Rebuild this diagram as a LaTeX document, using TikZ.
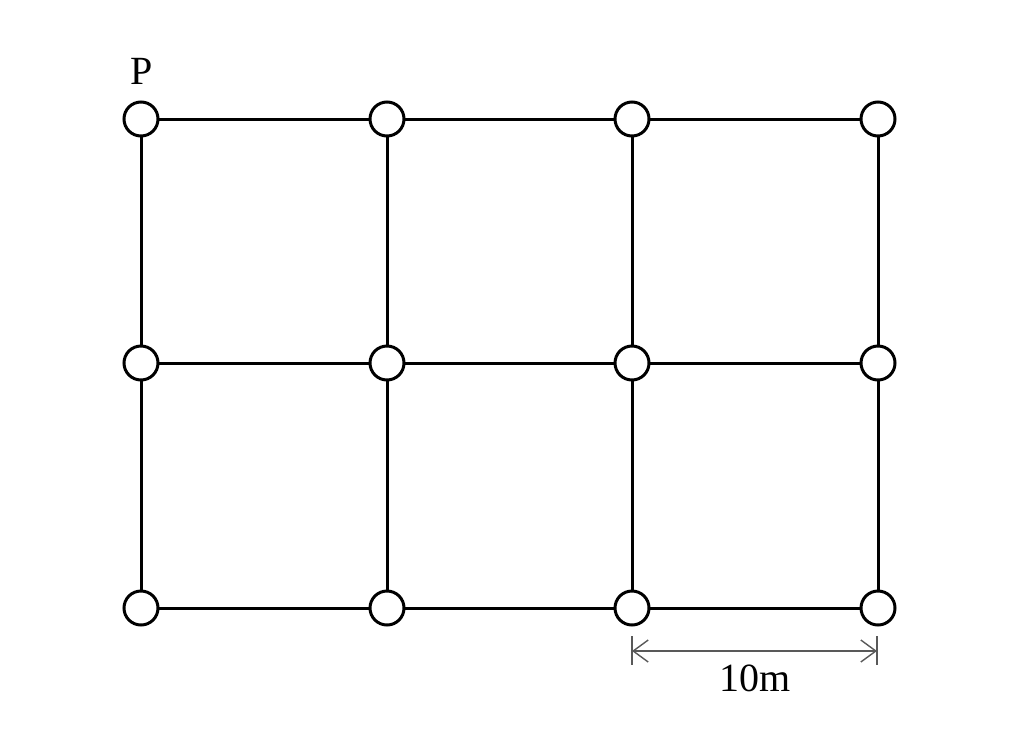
\documentclass[tikz,border=0pt]{standalone}
\usepackage{fontspec}
\setmainfont{Liberation Serif}
\usetikzlibrary{arrows.meta}
\begin{document}
\begin{tikzpicture}[x=1pt,y=-1pt,
  pt/.style={circle,draw=black,fill=white,line width=3pt,minimum size=34pt,inner sep=0pt},
  edge/.style={line width=3pt,black},
  dim/.style={line width=1.4pt,draw=black!65},
  tip/.style={Straight Barb[length=15pt,width=22pt,line width=1.4pt]},
  lbl/.style={font=\fontsize{40}{44}\selectfont,inner sep=0pt}]
\useasboundingbox (0,0) rectangle (1024,742);
\foreach \c/\x in {0/141,1/387,2/632,3/878}{
  \foreach \r/\y in {0/119,1/363,2/608}{
    \coordinate (c-\c-\r) at (\x,\y);
  }
}
\foreach \c in {0,1,2}{
  \pgfmathtruncatemacro{\n}{\c+1}
  \foreach \r in {0,1,2}{ \draw[edge] (c-\c-\r) -- (c-\n-\r); }
}
\foreach \c in {0,1,2,3}{
  \draw[edge] (c-\c-0) -- (c-\c-1);
  \draw[edge] (c-\c-1) -- (c-\c-2);
}
\foreach \c in {0,1,2,3}{
  \foreach \r in {0,1,2}{ \node[pt] (n-\c-\r) at (c-\c-\r) {}; }
}
\node[lbl] (P) at (142,71) {P};
\coordinate (dl) at (632,651);
\coordinate (dr) at (877,651);
\draw[dim] (632,636) -- (632,665);
\draw[dim] (877,636) -- (877,665);
\draw[dim,{Straight Barb[length=15pt,width=22pt]}-{Straight Barb[length=15pt,width=22pt]}] (dl) -- (dr);
\node[lbl] (L) at (755,678) {10m};
\end{tikzpicture}
\end{document}
